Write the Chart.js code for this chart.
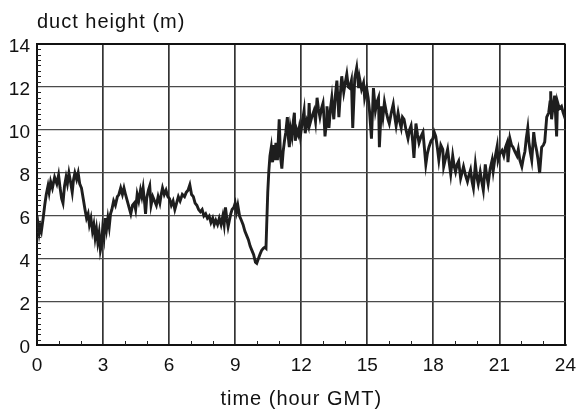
<!DOCTYPE html>
<html>
<head>
<meta charset="utf-8">
<script src="https://cdn.jsdelivr.net/npm/chart.js@4/dist/chart.umd.min.js"></script>
<style>
  html, body { margin: 0; padding: 0; background: #fff; }
  #wrap { width: 585px; height: 412px; }
</style>
</head>
<body>
<div id="wrap"><canvas id="c" width="585" height="412"></canvas></div>
<script>
// Time of each sample (hour GMT)
const hours = [
  0.00, 0.05, 0.10, 0.15, 0.20, 0.28, 0.35, 0.42, 0.50, 0.55, 0.62, 0.70, 0.80, 0.90, 0.98,
  1.05, 1.12, 1.18, 1.25, 1.32, 1.38, 1.45, 1.52, 1.60, 1.66, 1.72, 1.80, 1.87, 1.94,
  2.02, 2.10, 2.18, 2.25, 2.32, 2.38, 2.45, 2.52, 2.58, 2.64, 2.70, 2.76, 2.82, 2.88, 2.92, 2.98,
  3.04, 3.10, 3.16, 3.22, 3.28, 3.34, 3.40, 3.48, 3.56, 3.65, 3.72, 3.80, 3.88, 3.95,
  4.02, 4.10, 4.18, 4.26, 4.34, 4.42, 4.48, 4.55, 4.62, 4.70, 4.76, 4.82, 4.88, 4.93, 4.98,
  5.06, 5.12, 5.18, 5.26, 5.34, 5.42, 5.50, 5.58, 5.64, 5.70, 5.78, 5.86, 5.94,
  6.02, 6.10, 6.18, 6.26, 6.34, 6.42, 6.50, 6.60, 6.70, 6.78, 6.86, 6.94,
  7.02, 7.10, 7.18, 7.26, 7.34, 7.42, 7.50, 7.58, 7.66, 7.74, 7.82, 7.90, 7.98,
  8.05, 8.12, 8.20, 8.28, 8.36, 8.44, 8.50, 8.56, 8.62, 8.68, 8.74, 8.80, 8.86, 8.94,
  9.00, 9.06, 9.12, 9.20, 9.28, 9.36, 9.44, 9.52, 9.60, 9.68, 9.76, 9.84, 9.92, 9.98,
  10.05, 10.12, 10.20, 10.28, 10.35, 10.40, 10.43, 10.48, 10.53, 10.58, 10.64, 10.70, 10.76, 10.80, 10.85, 10.92,
  11.00, 11.06, 11.12, 11.18, 11.24, 11.30, 11.37, 11.42, 11.46, 11.51, 11.58, 11.64, 11.69, 11.73, 11.80, 11.86, 11.91, 11.96,
  12.04, 12.13, 12.18, 12.26, 12.32, 12.36, 12.40, 12.48, 12.58, 12.65, 12.72, 12.78, 12.85, 12.92, 12.99,
  13.04, 13.08, 13.13, 13.17, 13.26, 13.33, 13.39, 13.44, 13.48, 13.55, 13.62, 13.71, 13.78, 13.84, 13.93,
  14.00, 14.07, 14.14, 14.20, 14.28, 14.34, 14.43, 14.52, 14.61, 14.65, 14.74, 14.83, 14.88, 14.97,
  15.04, 15.10, 15.19, 15.28, 15.37, 15.44, 15.51, 15.55, 15.64, 15.71, 15.78, 15.87, 15.94,
  16.00, 16.09, 16.18, 16.25, 16.31, 16.40, 16.47, 16.54, 16.60, 16.67, 16.76, 16.85, 16.92, 16.99,
  17.06, 17.12, 17.21, 17.28, 17.35, 17.44, 17.53, 17.60, 17.66, 17.73, 17.80, 17.90, 17.98,
  18.04, 18.11, 18.18, 18.25, 18.34, 18.43, 18.47, 18.56, 18.65, 18.72, 18.79, 18.88, 18.95,
  19.01, 19.08, 19.15, 19.24, 19.30, 19.37, 19.46, 19.55, 19.62, 19.69, 19.76, 19.82, 19.91, 19.98,
  20.04, 20.13, 20.20, 20.27, 20.36, 20.42, 20.49, 20.58, 20.67, 20.72, 20.80, 20.90, 20.94,
  21.02, 21.12, 21.20, 21.28, 21.35, 21.39, 21.48, 21.55, 21.62, 21.70, 21.80, 21.86, 21.93,
  22.02, 22.09, 22.16, 22.22, 22.29, 22.34, 22.40, 22.47, 22.52, 22.56, 22.62, 22.70, 22.76, 22.83, 22.92,
  23.00, 23.06, 23.15, 23.24, 23.30, 23.33, 23.37, 23.44, 23.51, 23.60, 23.64, 23.72, 23.82, 23.90, 24.00
];

// Duct height at each sample (m)
const ductHeight = [
  6.0, 5.6, 5.2, 5.5, 5.3, 5.9, 6.5, 7.0, 7.4, 7.1, 7.6, 7.3, 7.8, 7.5, 7.9,
  7.3, 6.8, 6.6, 7.4, 7.8, 7.5, 8.0, 7.6, 7.1, 7.7, 8.0, 7.7, 8.0, 7.5,
  7.3, 6.8, 6.3, 5.9, 6.1, 5.6, 5.9, 5.3, 5.6, 5.0, 5.4, 4.8, 5.2, 4.4, 4.6, 5.4,
  5.0, 5.9, 5.4, 5.9, 5.5, 6.1, 6.3, 6.7, 6.5, 6.9, 7.0, 7.3, 7.0, 7.3,
  7.0, 6.7, 6.4, 6.1, 6.5, 6.6, 6.3, 7.0, 6.7, 7.2, 6.9, 7.3, 6.7, 6.1, 6.8,
  7.2, 7.4, 6.5, 6.9, 6.7, 6.5, 6.9, 6.6, 7.0, 7.3, 7.0, 7.2, 6.9,
  6.8, 6.5, 6.7, 6.3, 6.6, 6.9, 6.7, 7.0, 6.9, 7.1, 7.2, 7.45,
  7.0, 6.9, 6.6, 6.5, 6.3, 6.2, 6.3, 6.0, 6.1, 5.9, 6.0, 5.7, 5.9,
  5.6, 5.8, 5.6, 5.9, 5.6, 6.0, 5.6, 6.4, 5.9, 5.5, 5.8, 6.1, 6.3, 6.4,
  6.6, 6.2, 6.5, 6.0, 5.8, 5.6, 5.3, 5.1, 4.9, 4.6, 4.4, 4.2, 3.85, 3.8,
  4.0, 4.2, 4.4, 4.5, 4.55, 4.5, 5.5, 7.1, 8.1, 8.8, 9.2, 8.5, 9.3, 8.6, 9.4, 8.6,
  10.5, 8.75, 8.2, 9.0, 9.5, 9.9, 10.6, 9.6, 9.2, 10.1, 9.7, 10.4, 10.8, 9.5, 10.0, 9.8, 10.1, 9.7,
  10.3, 10.9, 9.85, 10.4, 10.2, 11.25, 10.3, 10.6, 10.9, 10.4, 11.5, 11.0, 10.6, 11.0, 11.25,
  10.5, 9.7, 10.2, 11.1, 10.1, 11.0, 11.5, 10.9, 10.5, 11.6, 12.3, 10.6, 11.7, 12.5, 11.75,
  12.2, 12.6, 12.0, 11.95, 12.3, 10.1, 12.4, 12.9, 11.95, 12.4, 11.9, 12.2, 11.5, 11.95,
  11.5, 10.9, 9.6, 11.95, 10.9, 11.3, 11.5, 9.2, 11.1, 10.6, 11.3, 10.8, 10.5,
  10.3, 10.8, 11.2, 10.6, 10.2, 10.8, 10.4, 10.1, 10.6, 10.5, 10.0, 9.6, 10.0, 10.2,
  9.5, 8.7, 10.3, 9.8, 9.4, 9.7, 9.9, 9.1, 8.4, 8.9, 9.2, 9.5, 9.6,
  9.9, 9.7, 9.2, 8.6, 9.3, 9.1, 8.3, 8.7, 9.1, 8.5, 7.95, 8.8, 8.3,
  8.05, 8.4, 8.55, 7.75, 8.0, 8.3, 7.9, 7.6, 7.9, 8.15, 7.6, 7.3, 8.4, 7.8,
  7.5, 8.05, 7.6, 7.2, 8.4, 7.9, 7.5, 8.2, 8.6, 8.1, 8.7, 9.25, 8.6,
  8.9, 9.05, 8.8, 9.2, 9.4, 8.5, 9.6, 9.3, 9.2, 9.0, 8.8, 9.1, 8.6,
  8.3, 8.7, 9.0, 9.6, 10.1, 9.45, 9.0, 8.6, 9.3, 9.9, 9.4, 9.0, 8.6, 8.0, 9.2,
  9.3, 9.45, 10.6, 10.8, 11.3, 11.8, 10.5, 11.1, 11.6, 9.7, 11.3, 11.0, 11.1, 10.8, 10.5
];

// Axis tick labels
const xTicks = [0, 3, 6, 9, 12, 15, 18, 21, 24];
const yTicks = [0, 2, 4, 6, 8, 10, 12, 14];

const yTitle = 'duct height (m)';
const xTitle = 'time (hour GMT)';

const FONT = '"Liberation Sans", Arial, Helvetica, sans-serif';
const INK = '#111';

// Axis titles and the small inward minor ticks along the left and bottom axes
const decorations = {
  id: 'decorations',
  afterDraw(chart) {
    const { ctx, chartArea, scales: { x, y } } = chart;
    ctx.save();
    ctx.strokeStyle = '#222';
    ctx.lineWidth = 1;
    for (let v = 0.25; v < 14; v += 0.25) {
      if (Math.abs(v / 2 - Math.round(v / 2)) < 1e-6) continue;
      const py = Math.round(y.getPixelForValue(v)) + 0.5;
      ctx.beginPath();
      ctx.moveTo(chartArea.left, py);
      ctx.lineTo(chartArea.left + 4, py);
      ctx.stroke();
    }
    for (let h = 1; h < 24; h++) {
      if (h % 3 === 0) continue;
      const px = Math.round(x.getPixelForValue(h)) + 0.5;
      ctx.beginPath();
      ctx.moveTo(px, chartArea.bottom);
      ctx.lineTo(px, chartArea.bottom - 4);
      ctx.stroke();
    }

    ctx.fillStyle = INK;
    ctx.font = '20px ' + FONT;
    if ('letterSpacing' in ctx) ctx.letterSpacing = '1px';
    ctx.textBaseline = 'alphabetic';
    ctx.textAlign = 'left';
    ctx.fillText(yTitle, chartArea.left, 28);
    ctx.textAlign = 'center';
    ctx.fillText(xTitle, (chartArea.left + chartArea.right) / 2, 405);
    ctx.restore();
  }
};

new Chart(document.getElementById('c'), {
  type: 'line',
  data: {
    datasets: [{
      data: hours.map((h, i) => ({ x: h, y: ductHeight[i] })),
      borderColor: '#1e1e1e',
      borderWidth: 2.9,
      pointRadius: 0,
      tension: 0,
      fill: false
    }]
  },
  options: {
    responsive: false,
    animation: false,
    devicePixelRatio: 1,
    layout: { padding: { top: 44, right: 14, left: 0, bottom: 0 } },
    plugins: { legend: { display: false }, tooltip: { enabled: false }, title: { display: false } },
    scales: {
      x: {
        type: 'linear',
        min: 0, max: 24,
        afterFit(scale) { scale.height = 67; },
        afterBuildTicks(scale) { scale.ticks = xTicks.map(v => ({ value: v })); },
        ticks: {
          color: INK,
          font: { family: FONT, size: 19 },
          padding: 9,
          maxRotation: 0,
          autoSkip: false
        },
        grid: {
          drawTicks: false,
          color: ctx => (ctx.tick && ctx.tick.value === 24) ? '#111' : '#333',
          lineWidth: ctx => (ctx.tick && ctx.tick.value === 24) ? 2 : 1.7
        },
        border: { color: '#111', width: 2 }
      },
      y: {
        type: 'linear',
        min: 0, max: 14,
        afterFit(scale) { scale.width = 37; },
        afterBuildTicks(scale) { scale.ticks = yTicks.map(v => ({ value: v })); },
        ticks: {
          color: INK,
          font: { family: FONT, size: 19 },
          padding: 7,
          labelOffset: 3,
          autoSkip: false
        },
        grid: {
          drawTicks: false,
          color: ctx => (ctx.tick && ctx.tick.value === 14) ? '#111' : '#4a4a4a',
          lineWidth: ctx => (ctx.tick && ctx.tick.value === 14) ? 2 : 1.3
        },
        border: { color: '#111', width: 2 }
      }
    }
  },
  plugins: [decorations]
});
</script>
</body>
</html>
